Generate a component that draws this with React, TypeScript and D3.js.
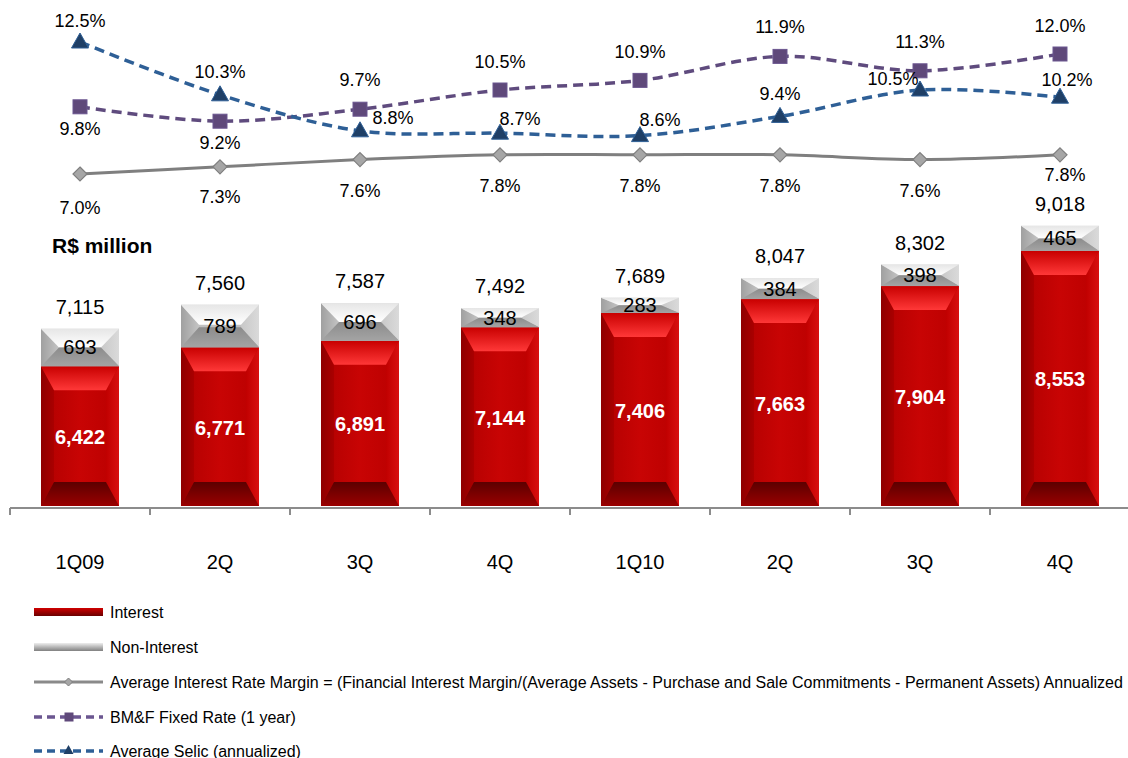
import React from 'react';
import * as d3 from 'd3';

const categories = ['1Q09', '2Q', '3Q', '4Q', '1Q10', '2Q ', '3Q ', '4Q '];
const tickLabels = ['1Q09', '2Q', '3Q', '4Q', '1Q10', '2Q', '3Q', '4Q'];
const interest = [6422, 6771, 6891, 7144, 7406, 7663, 7904, 8553];
const nonInterest = [693, 789, 696, 348, 283, 384, 398, 465];
const totals = [7115, 7560, 7587, 7492, 7689, 8047, 8302, 9018];
const margin = [7.0, 7.3, 7.6, 7.8, 7.8, 7.8, 7.6, 7.8];
const bmf = [9.8, 9.2, 9.7, 10.5, 10.9, 11.9, 11.3, 12.0];
const selic = [12.5, 10.3, 8.8, 8.7, 8.6, 9.4, 10.5, 10.2];

// label placement (dx, dy from point) - layout only
const selicOffsets = [[0, -21], [0, -23], [33, -13], [20, -14], [20, -16], [0, -22], [-27, -11], [7, -17]];
const bmfOffsets = [[0, 22], [0, 22], [0, -29], [0, -28], [0, -28], [0, -29], [0, -29], [0, -28]];
const marginOffsets = [[0, 34], [0, 30], [0, 31], [0, 31], [0, 31], [0, 31], [0, 31], [5, 20]];

const W = 1128;
const H = 758;
const FONT = '"Liberation Sans", Arial, sans-serif';
const BASE = 508;

const band = d3.scaleBand().domain(categories).range([10, 1130]).padding(0);
const barW = band.bandwidth() * 0.557;
const cx = (i) => band(categories[i]) + band.bandwidth() / 2;

const yBar = d3.scaleLinear().domain([3800, 9200]).range([BASE, 216]);
const yRate = d3.scaleLinear().domain([7, 12.5]).range([174, 42]);

const rateLine = d3.line()
	.x((d, i) => cx(i))
	.y((d) => yRate(d))
	.curve(d3.curveCatmullRom.alpha(0.5));

const fmt = d3.format(',');
const pct = (v) => v.toFixed(1) + '%';

function Bevel({ x, y, w, h, kind }) {
	const red = kind === 'red';
	const bx = red ? 13 : 18;
	const by = Math.min(red ? 24 : 20, h / 2);
	const bxx = Math.min(bx, w / 2);
	const top = `M${x},${y}L${x + w},${y}L${x + w - bxx},${y + by}L${x + bxx},${y + by}Z`;
	const bot = `M${x},${y + h}L${x + w},${y + h}L${x + w - bxx},${y + h - by}L${x + bxx},${y + h - by}Z`;
	const left = `M${x},${y}L${x + bxx},${y + by}L${x + bxx},${y + h - by}L${x},${y + h}Z`;
	const right = `M${x + w},${y}L${x + w - bxx},${y + by}L${x + w - bxx},${y + h - by}L${x + w},${y + h}Z`;
	return (
		<g>
			<rect x={x} y={y} width={w} height={h} fill={red ? 'url(#redBody)' : 'url(#grayBody)'} />
			<path d={left} fill={red ? 'url(#redLeft)' : 'url(#grayLeft)'} />
			<path d={right} fill={red ? 'url(#redRight)' : 'url(#grayRight)'} />
			<path d={top} fill={red ? 'url(#redTop)' : 'url(#grayTop)'} />
			<path d={bot} fill={red ? 'url(#redBot)' : 'url(#grayBot)'} />
		</g>
	);
}

function Triangle({ x, y }) {
	return <path d={`M${x},${y - 9}L${x + 8.5},${y + 6}L${x - 8.5},${y + 6}Z`} fill="#1F3F66" stroke="#2E5F96" strokeWidth={1} />;
}
function Square({ x, y }) {
	return <rect x={x - 7} y={y - 7} width={14} height={14} fill="#5F497A" stroke="#6B5690" strokeWidth={1} />;
}
function Diamond({ x, y }) {
	return <path d={`M${x},${y - 7}L${x + 7},${y}L${x},${y + 7}L${x - 7},${y}Z`} fill="#A6A6A6" stroke="#7F7F7F" strokeWidth={1.2} />;
}

const legendItems = [
	'Interest',
	'Non-Interest',
	'Average Interest Rate Margin = (Financial Interest Margin/(Average Assets - Purchase and Sale Commitments - Permanent Assets) Annualized',
	'BM&F Fixed Rate (1 year)',
	'Average Selic (annualized)',
];

export default function App() {
	const legendY = [612, 647, 682, 717, 751];
	const lx0 = 34;
	const lx1 = 103;
	const lmid = (lx0 + lx1) / 2;
	return (
		<svg width={W} height={H} style={{ position: 'absolute', left: 0, top: 0, background: '#fff' }} fontFamily={FONT}>
			<defs>
				<linearGradient id="redBody" x1="0" x2="1" y1="0" y2="0">
					<stop offset="0" stopColor="#B00000" />
					<stop offset="0.5" stopColor="#C80404" />
					<stop offset="1" stopColor="#BA0000" />
				</linearGradient>
				<linearGradient id="redLeft" x1="0" x2="1" y1="0" y2="0">
					<stop offset="0" stopColor="#8E0000" />
					<stop offset="1" stopColor="#AA0000" />
				</linearGradient>
				<linearGradient id="redRight" x1="0" x2="1" y1="0" y2="0">
					<stop offset="0" stopColor="#C00000" />
					<stop offset="1" stopColor="#D81010" />
				</linearGradient>
				<linearGradient id="redTop" x1="0" x2="0" y1="0" y2="1">
					<stop offset="0" stopColor="#C80000" />
					<stop offset="1" stopColor="#FF3838" />
				</linearGradient>
				<linearGradient id="redBot" x1="0" x2="0" y1="0" y2="1">
					<stop offset="0" stopColor="#5C0000" />
					<stop offset="1" stopColor="#9A0000" />
				</linearGradient>
				<linearGradient id="grayBody" x1="0" x2="0" y1="0" y2="1">
					<stop offset="0" stopColor="#D8D8D8" />
					<stop offset="1" stopColor="#A8A8A8" />
				</linearGradient>
				<linearGradient id="grayLeft" x1="0" x2="1" y1="0" y2="0">
					<stop offset="0" stopColor="#A0A0A0" />
					<stop offset="1" stopColor="#C4C4C4" />
				</linearGradient>
				<linearGradient id="grayRight" x1="0" x2="1" y1="0" y2="0">
					<stop offset="0" stopColor="#C8C8C8" />
					<stop offset="1" stopColor="#DADADA" />
				</linearGradient>
				<linearGradient id="grayTop" x1="0" x2="0" y1="0" y2="1">
					<stop offset="0" stopColor="#E6E6E6" />
					<stop offset="1" stopColor="#FFFFFF" />
				</linearGradient>
				<linearGradient id="grayBot" x1="0" x2="0" y1="0" y2="1">
					<stop offset="0" stopColor="#8C8C8C" />
					<stop offset="1" stopColor="#A4A4A4" />
				</linearGradient>
				<linearGradient id="legRed" x1="0" x2="0" y1="0" y2="1">
					<stop offset="0" stopColor="#D00000" />
					<stop offset="1" stopColor="#6A0000" />
				</linearGradient>
				<linearGradient id="legGray" x1="0" x2="0" y1="0" y2="1">
					<stop offset="0" stopColor="#EEEEEE" />
					<stop offset="1" stopColor="#808080" />
				</linearGradient>
			</defs>

			{/* bars */}
			{categories.map((c, i) => {
				const x = band(c) + (band.bandwidth() - barW) / 2;
				const yI = yBar(interest[i]);
				const yT = yBar(totals[i]);
				return (
					<g key={'bar' + i}>
						<Bevel x={x} y={yI} w={barW} h={BASE - 2 - yI} kind="red" />
						<Bevel x={x} y={yT} w={barW} h={yI - yT} kind="gray" />
						<text x={cx(i)} y={(yI + BASE) / 2 + 7} textAnchor="middle" fontSize={20} fontWeight="bold" fill="#fff">{fmt(interest[i])}</text>
						<text x={cx(i)} y={(yI + yT) / 2 + 7} textAnchor="middle" fontSize={20} fill="#000">{nonInterest[i]}</text>
						<text x={cx(i)} y={yT - 15} textAnchor="middle" fontSize={20} fill="#000">{fmt(totals[i])}</text>
					</g>
				);
			})}

			{/* axis */}
			<line x1={10} x2={W} y1={BASE} y2={BASE} stroke="#8C8C8C" strokeWidth={2} />
			{categories.map((c) => (
				<line key={'t' + c} x1={band(c)} x2={band(c)} y1={BASE} y2={BASE + 7} stroke="#8C8C8C" strokeWidth={2} />
			))}
			{categories.map((c, i) => (
				<text key={'xl' + i} x={cx(i)} y={569} textAnchor="middle" fontSize={20} fill="#000">{tickLabels[i]}</text>
			))}

			<text x={52} y={253} fontSize={21} fontWeight="bold" fill="#000">R$ million</text>

			{/* lines */}
			<path d={rateLine(margin)} fill="none" stroke="#7F7F7F" strokeWidth={3} />
			<path d={rateLine(bmf)} fill="none" stroke="#5F4B7E" strokeWidth={3.5} strokeDasharray="10,6" />
			<path d={rateLine(selic)} fill="none" stroke="#2E5F96" strokeWidth={3.5} strokeDasharray="10,6" />
			{margin.map((v, i) => <Diamond key={'d' + i} x={cx(i)} y={yRate(v)} />)}
			{bmf.map((v, i) => <Square key={'s' + i} x={cx(i)} y={yRate(v)} />)}
			{selic.map((v, i) => <Triangle key={'tr' + i} x={cx(i)} y={yRate(v)} />)}

			{margin.map((v, i) => (
				<text key={'ml' + i} x={cx(i) + marginOffsets[i][0]} y={yRate(v) + marginOffsets[i][1] + 6} textAnchor="middle" fontSize={18}>{pct(v)}</text>
			))}
			{bmf.map((v, i) => (
				<text key={'bl' + i} x={cx(i) + bmfOffsets[i][0]} y={yRate(v) + bmfOffsets[i][1] + 6} textAnchor="middle" fontSize={18}>{pct(v)}</text>
			))}
			{selic.map((v, i) => (
				<text key={'sl' + i} x={cx(i) + selicOffsets[i][0]} y={yRate(v) + selicOffsets[i][1] + 6} textAnchor="middle" fontSize={18}>{pct(v)}</text>
			))}

			{/* legend */}
			<g>
				<rect x={lx0} y={legendY[0] - 4} width={lx1 - lx0} height={8} fill="url(#legRed)" />
				<rect x={lx0} y={legendY[1] - 4} width={lx1 - lx0} height={8} fill="url(#legGray)" />
				<line x1={lx0} x2={lx1} y1={legendY[2]} y2={legendY[2]} stroke="#8A8A8A" strokeWidth={3} />
				<path d={`M${lmid},${legendY[2] - 4}L${lmid + 4},${legendY[2]}L${lmid},${legendY[2] + 4}L${lmid - 4},${legendY[2]}Z`} fill="#A6A6A6" stroke="#7F7F7F" />
				<line x1={lx0} x2={lx1} y1={legendY[3]} y2={legendY[3]} stroke="#6B5690" strokeWidth={3.5} strokeDasharray="8,5" />
				<rect x={lmid - 4} y={legendY[3] - 4.5} width={9} height={9} fill="#5F497A" />
				<line x1={lx0} x2={lx1} y1={legendY[4]} y2={legendY[4]} stroke="#2E5F96" strokeWidth={3.5} strokeDasharray="8,5" />
				<path d={`M${lmid},${legendY[4] - 6}L${lmid + 5},${legendY[4] + 3}L${lmid - 5},${legendY[4] + 3}Z`} fill="#1F3F66" />
				{legendItems.map((t, i) => (
					<text key={'lg' + i} x={110} y={legendY[i] + 6} fontSize={16} fill="#000">{t}</text>
				))}
			</g>
		</svg>
	);
}
